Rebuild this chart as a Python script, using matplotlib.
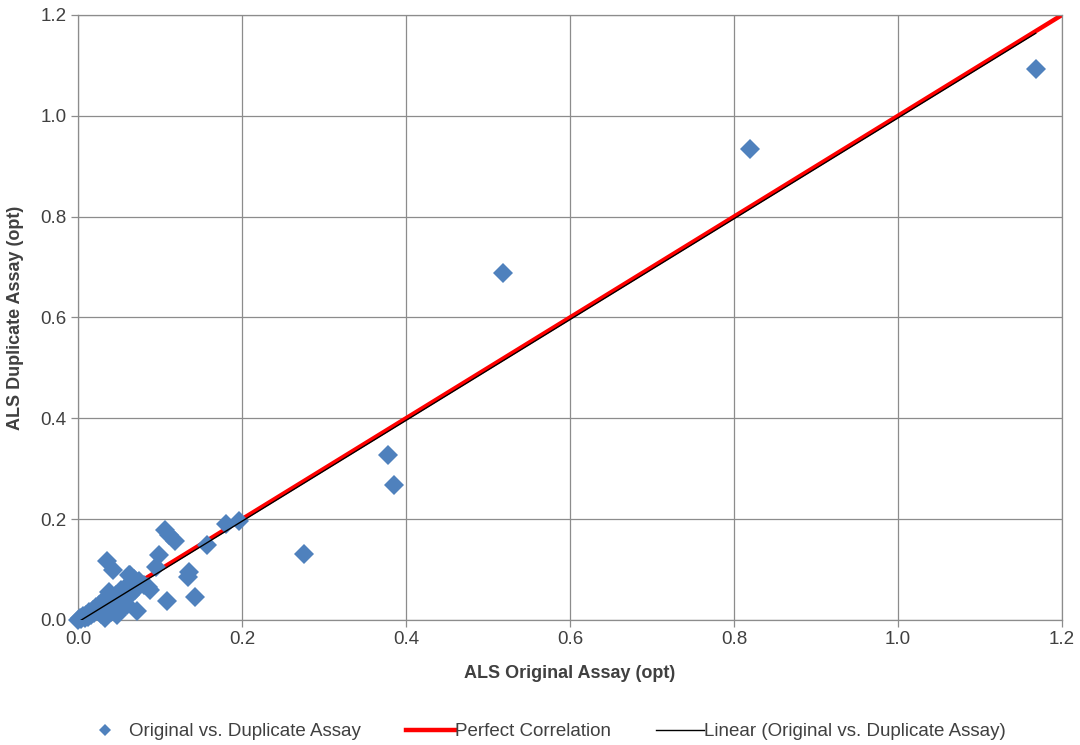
import numpy as np
import matplotlib
matplotlib.use("Agg")
import matplotlib.pyplot as plt
from matplotlib.ticker import FormatStrFormatter

plt.rcParams["font.family"] = ["Liberation Sans", "DejaVu Sans"]

# original vs duplicate assay values (opt)
original = [
    0.000, 0.002, 0.004, 0.006, 0.008, 0.010, 0.012, 0.014, 0.016, 0.018,
    0.020, 0.022, 0.024, 0.026, 0.028, 0.030, 0.032, 0.033, 0.035, 0.036,
    0.038, 0.040, 0.042, 0.044, 0.046, 0.048, 0.050, 0.052, 0.054, 0.056,
    0.058, 0.060, 0.062, 0.064, 0.066, 0.068, 0.070, 0.072, 0.075, 0.080,
    0.085, 0.088, 0.035, 0.043, 0.063, 0.095, 0.099, 0.106, 0.111, 0.118,
    0.134, 0.135, 0.143, 0.109, 0.157, 0.180, 0.196, 0.276, 0.378, 0.385,
    0.518, 0.820, 1.168,
]
duplicate = [
    0.000, 0.004, 0.001, 0.008, 0.003, 0.010, 0.006, 0.015, 0.010, 0.020,
    0.014, 0.025, 0.018, 0.030, 0.012, 0.036, 0.022, 0.004, 0.045, 0.028,
    0.055, 0.016, 0.040, 0.030, 0.050, 0.010, 0.035, 0.060, 0.022, 0.045,
    0.065, 0.030, 0.090, 0.050, 0.075, 0.082, 0.060, 0.018, 0.078, 0.070,
    0.065, 0.060, 0.117, 0.099, 0.089, 0.105, 0.129, 0.178, 0.169, 0.157,
    0.085, 0.095, 0.046, 0.038, 0.149, 0.190, 0.196, 0.131, 0.327, 0.268,
    0.688, 0.934, 1.093,
]
perfect = [0.0, 1.2]

ticks = [0.0, 0.2, 0.4, 0.6, 0.8, 1.0, 1.2]

x = np.array(original)
y = np.array(duplicate)
slope, intercept = np.polyfit(x, y, 1)
fit_x = np.array([x.min(), x.max()])
fit_y = slope * fit_x + intercept

fig = plt.figure(figsize=(10.8, 7.45), dpi=100)
ax = fig.add_axes([0.0722, 0.1678, 0.9111, 0.8121])

ax.plot(perfect, perfect, color="#FF0000", lw=3.2, zorder=2, label="Perfect Correlation")
ax.plot(x, y, linestyle="none", marker="D", markersize=10.5, color="#4F81BD",
        markeredgewidth=0, zorder=3, clip_on=False, label="Original vs. Duplicate Assay")
ax.plot(fit_x, fit_y, color="black", lw=1.0, zorder=4,
        label="Linear (Original vs. Duplicate Assay)")

ax.set_xlim(0, 1.2)
ax.set_ylim(0, 1.2)
ax.set_xticks(ticks)
ax.set_yticks(ticks)
ax.xaxis.set_major_formatter(FormatStrFormatter("%.1f"))
ax.yaxis.set_major_formatter(FormatStrFormatter("%.1f"))
ax.grid(True, color="#8C8C8C", lw=0.9)
ax.set_axisbelow(True)
for s in ax.spines.values():
    s.set_color("#8C8C8C")
    s.set_linewidth(0.9)
ax.tick_params(colors="#8C8C8C", length=5, width=0.9, labelsize=13.5,
               labelcolor="#404040", pad=3)

ax.set_xlabel("ALS Original Assay (opt)", fontsize=13, fontweight="bold",
              color="#404040", labelpad=12)
ax.set_ylabel("ALS Duplicate Assay (opt)", fontsize=13, fontweight="bold",
              color="#404040", labelpad=12)

handles, labels = ax.get_legend_handles_labels()
order = [1, 0, 2]
fig.legend([handles[i] for i in order], [labels[i] for i in order],
           loc="center", bbox_to_anchor=(0.503, 0.018), ncol=3, frameon=False,
           fontsize=13.5, handlelength=2.6, handletextpad=0.0, columnspacing=2.4,
           markerscale=0.6, labelcolor="#404040")

fig.savefig("out.png", dpi=100)
